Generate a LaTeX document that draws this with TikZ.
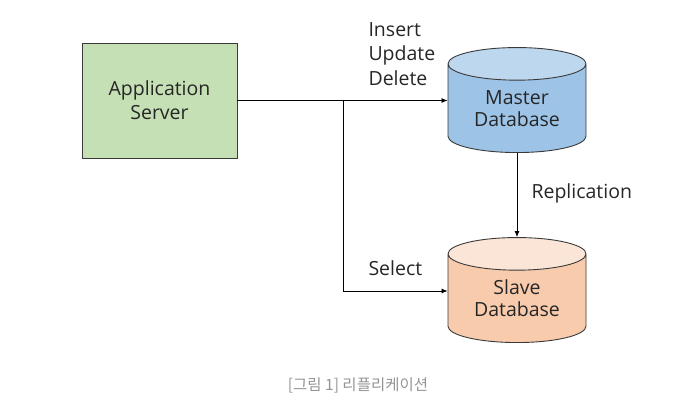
\documentclass[tikz,border=0pt]{standalone}
\usepackage{fontspec}
\setmainfont{Open Sans}
\newfontfamily\korfont{Noto Sans CJK KR}
\usetikzlibrary{shapes.geometric,arrows.meta}
\definecolor{srvgreen}{HTML}{C5E0B4}
\definecolor{mstbody}{HTML}{9DC3E6}
\definecolor{msttop}{HTML}{BDD7EE}
\definecolor{slvbody}{HTML}{F8CBAD}
\definecolor{slvtop}{HTML}{FBE5D6}
\definecolor{edgegray}{HTML}{3A3A3A}
\definecolor{txtdark}{HTML}{262626}

\begin{document}
\begin{tikzpicture}[x=1pt,y=-1pt,
	every node/.style={font=\fontsize{19.5}{24}\selectfont, text=txtdark},
	dbcyl/.style={cylinder, shape border rotate=90, draw=edgegray, line width=0.9pt,
		cylinder uses custom fill, minimum width=138pt, minimum height=105pt,
		aspect=0.38, inner sep=0pt, anchor=bottom, align=center,
		font=\fontsize{19.5}{22.5}\selectfont},
	link/.style={draw=black, line width=0.8pt, -{Latex[length=6pt,width=5pt]}}]
	%%%%% START %%%%%
	
	\useasboundingbox (0, 0) rectangle (697, 406);
	
	\node[draw=edgegray, line width=0.9pt, fill=srvgreen, minimum width=155pt,
		minimum height=115pt, align=center] (app) at (159.5, 100.5) {Application\\Server};
	
	\node[dbcyl, cylinder body fill=mstbody, cylinder end fill=msttop] (master) at (517, 153) {Master\\Database};
	\node[dbcyl, cylinder body fill=slvbody, cylinder end fill=slvtop] (slave) at (517, 343) {Slave\\Database};
	
	\coordinate (fork) at (343, 100.5);
	\coordinate (forklow) at (343, 291);
	
	\draw[link] (app.east) -- (app.east -| master.west);
	\draw[link, -] (fork) -- (forklow);
	\draw[link] (forklow) -- (forklow -| slave.west);
	\draw[link] (master.bottom) -- (slave.top);
	
	\node[anchor=west, align=left, font=\fontsize{19.5}{24.5}\selectfont] (cud) at (365, 54) {Insert\\Update\\Delete};
	\node[anchor=west] (repl) at (528, 193) {Replication};
	\node[anchor=west] (sel) at (365, 268) {Select};
	
	\node[font=\korfont\fontsize{15.5}{18}\selectfont, text=black!42] (cap) at (358, 385) {[그림 1] 리플리케이션};
	
	%%%%% END %%%%%
\end{tikzpicture}
\end{document}
